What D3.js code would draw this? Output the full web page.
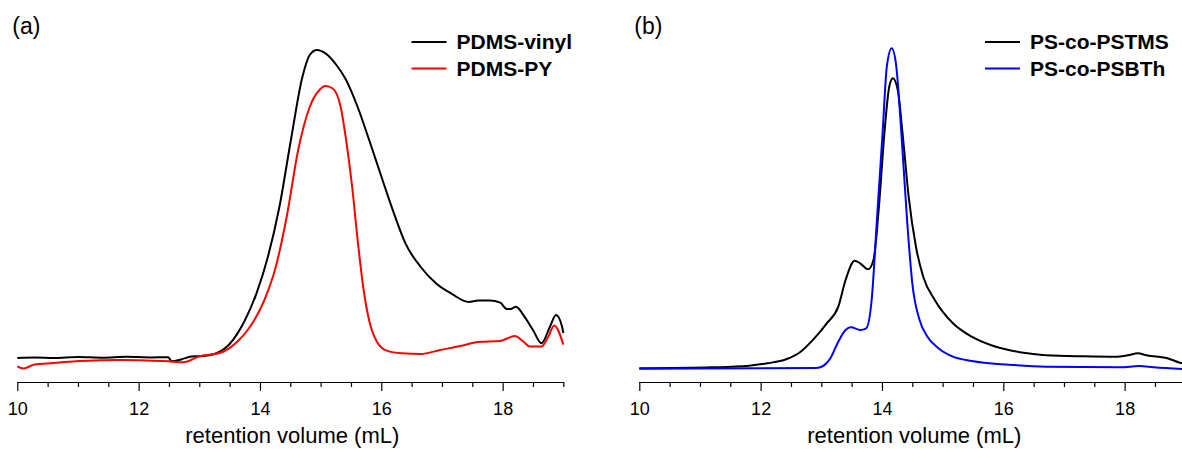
<!DOCTYPE html>
<html>
<head>
<meta charset="utf-8">
<script src="https://cdn.jsdelivr.net/npm/d3@7"></script>
<style>
  body { margin: 0; background: #fff; }
  svg { display: block; font-family: "Liberation Sans", Arial, sans-serif; }
</style>
</head>
<body>
<div id="svg-container"></div>
<script>
// retention volume (mL) and detector signal
const vinylX = [10.0, 10.3, 10.6, 11.0, 11.4, 11.8, 12.2, 12.49, 12.54, 12.7, 12.87, 13.05, 13.25, 13.5, 13.75, 13.94, 14.13, 14.32, 14.51, 14.7, 14.82, 14.94, 15.08, 15.26, 15.42, 15.61, 15.8, 16.02, 16.21, 16.4, 16.65, 16.91, 17.16, 17.44, 17.6, 17.79, 17.96, 18.07, 18.13, 18.22, 18.36, 18.5, 18.64, 18.78, 18.88, 18.98, 19.0]
const vinylY = [24.1, 24.5, 24.0, 25.0, 24.3, 25.2, 24.6, 24.7, 20.7, 22.5, 25.5, 26.0, 28, 38, 61.5, 88.2, 125, 175, 242, 305.2, 327, 332, 328.6, 317, 302, 275, 242, 202, 168.3, 138.3, 115, 98.2, 88.2, 80, 81.5, 81.5, 79.3, 73, 73, 75.3, 65.3, 52, 38.7, 55.3, 67, 55.3, 49]

const pyX = [10.0, 10.1, 10.28, 10.6, 10.97, 11.3, 11.6, 12.0, 12.49, 12.74, 12.99, 13.37, 13.62, 13.81, 14.07, 14.26, 14.44, 14.63, 14.82, 14.98, 15.08, 15.2, 15.33, 15.42, 15.52, 15.61, 15.71, 15.8, 15.93, 16.09, 16.34, 16.65, 16.97, 17.3, 17.6, 17.96, 18.2, 18.35, 18.45, 18.64, 18.75, 18.85, 19.0]
const pyY = [15.7, 13.5, 17.4, 19, 20.7, 21.5, 22, 21.8, 20.7, 19.7, 25.4, 29.7, 40, 53, 81.5, 115, 165, 232, 275, 292, 296, 293.5, 275, 242, 195, 142, 91.5, 61.5, 40, 31.4, 28.7, 28, 32, 36, 40, 41, 46, 40, 35.4, 35.4, 45, 56.5, 37.4]

const pstmsX = [10.0, 11.19, 11.81, 12.11, 12.42, 12.66, 12.91, 13.09, 13.28, 13.4, 13.55, 13.64, 13.77, 13.86, 13.95, 14.04, 14.12, 14.18, 14.26, 14.35, 14.44, 14.56, 14.68, 14.87, 15.17, 15.48, 15.79, 16.09, 16.4, 16.71, 17.32, 17.87, 18.05, 18.22, 18.36, 18.73, 18.91, 19.0]
const pstmsY = [13.7, 14.7, 16.3, 18.7, 22.7, 30.3, 45.3, 58.7, 75.3, 102, 121.3, 118.7, 112.7, 122, 175.3, 248.7, 295.3, 303.7, 292, 242, 185.3, 135.3, 105.3, 82, 58.7, 45.3, 37, 32, 28.7, 26.7, 25.7, 25.3, 26.7, 28.7, 26.7, 23.3, 19.3, 18.5]

const psbthX = [10.0, 12.91, 13.03, 13.15, 13.28, 13.4, 13.49, 13.64, 13.74, 13.83, 13.92, 14.01, 14.08, 14.16, 14.23, 14.32, 14.41, 14.5, 14.62, 14.75, 14.93, 15.17, 15.48, 16.09, 16.71, 17.93, 18.24, 18.48, 18.96]
const psbthY = [13.3, 14, 16, 23.7, 40.3, 52, 54.7, 52, 53.7, 82, 165.3, 248.7, 315.3, 333.7, 318.7, 248.7, 165.3, 98.7, 62, 45.3, 33.7, 25.3, 21, 17.3, 15.3, 14.7, 16, 14.7, 13]

const majorTicks = [10, 12, 14, 16, 18]
const minorTicks = [10.5, 11, 11.5, 12.5, 13, 13.5, 14.5, 15, 15.5, 16.5, 17, 17.5, 18.5, 19]

const panelA = {
    label: '(a)',
    names: ['PDMS-vinyl', 'PDMS-PY'],
    colors: ['#000000', '#ff0000'],
    series: [[vinylX, vinylY], [pyX, pyY]]
}
const panelB = {
    label: '(b)',
    names: ['PS-co-PSTMS', 'PS-co-PSBTh'],
    colors: ['#000000', '#0000ff'],
    series: [[pstmsX, pstmsY], [psbthX, psbthY]]
}

const svg = d3.select('#svg-container')
    .append('svg').attr('width', 1182).attr('height', 449)

function drawPanel(panel, left, legendX) {
    const width = 546
    const axisY = 382

    //schalen
    const xScale = d3.scaleLinear().domain([10, 19]).range([left, left + width])
    const yScale = d3.scaleLinear().domain([0, 320]).range([axisY, axisY - 320])

    const g = svg.append('g')

    //grote ticks met labels
    const xAxis = d3.axisBottom(xScale)
        .tickValues(majorTicks)
        .tickFormat(d3.format('d'))
        .tickSize(9)
        .tickPadding(11)
    const xAxisG = g.append('g')
        .attr('transform', `translate(0, ${axisY})`)
        .call(xAxis)
    xAxisG.select('.domain').attr('stroke', '#000').attr('stroke-width', 1.2)
        .attr('d', `M${left},0.5H${left + width}`)
    xAxisG.selectAll('.tick line').attr('stroke-width', 1.2)
    xAxisG.selectAll('.tick text')
        .attr('font-size', 18)
        .attr('font-family', '"Liberation Sans", Arial, sans-serif')
        .attr('fill', '#000')

    //kleine ticks
    const minorAxis = d3.axisBottom(xScale)
        .tickValues(minorTicks)
        .tickFormat('')
        .tickSize(5)
    const minorG = g.append('g')
        .attr('transform', `translate(0, ${axisY})`)
        .call(minorAxis)
    minorG.select('.domain').remove()
    minorG.selectAll('.tick line').attr('stroke-width', 1.2)

    //as label
    g.append('text')
        .attr('x', left + width / 2 + 2)
        .attr('y', 443)
        .attr('text-anchor', 'middle')
        .attr('font-size', 22)
        .text('retention volume (mL)')

    //lijnen
    const line = d3.line()
        .x(d => xScale(d[0]))
        .y(d => yScale(d[1]))
        .curve(d3.curveMonotoneX)

    panel.series.forEach((s, i) => {
        const points = s[0].map((x, j) => [x, s[1][j]])
        g.append('path')
            .datum(points)
            .attr('fill', 'none')
            .attr('stroke', panel.colors[i])
            .attr('stroke-width', 2)
            .attr('stroke-linejoin', 'round')
            .attr('d', line)
    })

    //legenda
    panel.names.forEach((name, i) => {
        const y = 42 + i * 26.5
        g.append('line')
            .attr('x1', legendX).attr('x2', legendX + 35)
            .attr('y1', y).attr('y2', y)
            .attr('stroke', panel.colors[i])
            .attr('stroke-width', 2)
        g.append('text')
            .attr('x', legendX + 45)
            .attr('y', y + 7)
            .attr('font-size', 21)
            .attr('font-weight', 'bold')
            .text(name)
    })

    //paneel letter
    g.append('text')
        .attr('x', left - 5)
        .attr('y', 34)
        .attr('font-size', 23)
        .text(panel.label)
}

drawPanel(panelA, 17.3, 411.5)
drawPanel(panelB, 639.3, 985)
</script>
</body>
</html>
